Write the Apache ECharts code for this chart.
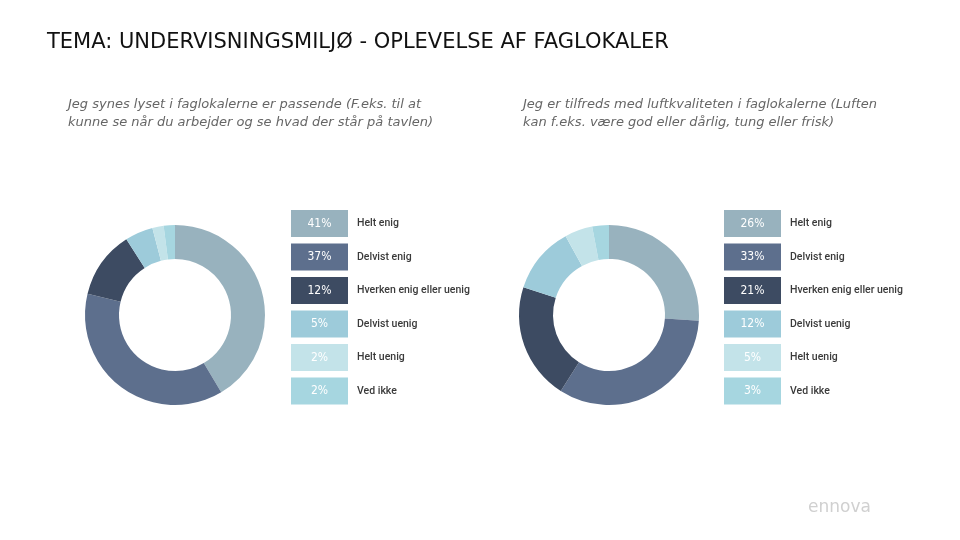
<!DOCTYPE html>
<html><head><meta charset="utf-8">
<script src="https://cdn.jsdelivr.net/npm/echarts@6/dist/echarts.min.js"></script>
<style>html,body{margin:0;padding:0;background:#fff}#c{width:960px;height:540px}</style>
</head><body><div id="c"></div>
<script>
const categories = ['Helt enig','Delvist enig','Hverken enig eller uenig','Delvist uenig','Helt uenig','Ved ikke'];
const lysValues = [41,37,12,5,2,2];
const luftValues = [26,33,21,12,5,3];
const colors = ['#98b2be','#5d6f8d','#3d4b62','#9dcbda','#c3e3e9','#a6d6e0'];
const titleText = 'TEMA: UNDERVISNINGSMILJØ - OPLEVELSE AF FAGLOKALER';
const subLeft = 'Jeg synes lyset i faglokalerne er passende (F.eks. til at\nkunne se når du arbejder og se hvad der står på tavlen)';
const subRight = 'Jeg er tilfreds med luftkvaliteten i faglokalerne (Luften\nkan f.eks. være god eller dårlig, tung eller frisk)';

const chart = echarts.init(document.getElementById('c'));
const rich = {gap:{width:9}, t:{color:'#3a3a3a', fontSize:10.5, fontWeight:500, fontFamily:'Roboto'}};
colors.forEach((c,i)=>{ rich['b'+i] = {backgroundColor:c, width:57, height:27, lineHeight:27, align:'center', color:'#fff', fontSize:12, fontFamily:'DejaVu Sans Condensed'}; });
function legendFor(vals, left){
  return {
    orient:'vertical', left:left, top:205, itemWidth:0, itemHeight:0, icon:'rect', itemGap:6.5,
    selectedMode:false, data:categories,
    formatter: n => { const i = categories.indexOf(n); return '{b'+i+'|'+vals[i]+'%}{gap|}{t|'+n+'}'; },
    textStyle:{rich:rich}
  };
}
function pieFor(vals, cx){
  return {
    type:'pie', radius:[56,90], center:[cx,315], startAngle:90, clockwise:true,
    label:{show:false}, labelLine:{show:false}, silent:true,
    data: categories.map((n,i)=>({name:n, value:vals[i], itemStyle:{color:colors[i]}}))
  };
}
chart.setOption({
  animation:false,
  title:[
    {text:titleText, left:42, top:27, textStyle:{fontFamily:'DejaVu Sans', fontSize:21, fontWeight:'normal', color:'#111'}},
    {text:subLeft, left:63, top:91, textStyle:{fontFamily:'DejaVu Sans', fontStyle:'italic', fontSize:13, fontWeight:'normal', color:'#666', lineHeight:18}},
    {text:subRight, left:518, top:91, textStyle:{fontFamily:'DejaVu Sans', fontStyle:'italic', fontSize:13, fontWeight:'normal', color:'#666', lineHeight:18}}
  ],
  legend:[legendFor(lysValues, 281), legendFor(luftValues, 714)],
  series:[pieFor(lysValues,175), pieFor(luftValues,609)],
  graphic:[{type:'text', left:808, top:499, style:{text:'ennova', fill:'#d0d0d0', font:'17px "DejaVu Sans"'}}]
});
</script></body></html>
